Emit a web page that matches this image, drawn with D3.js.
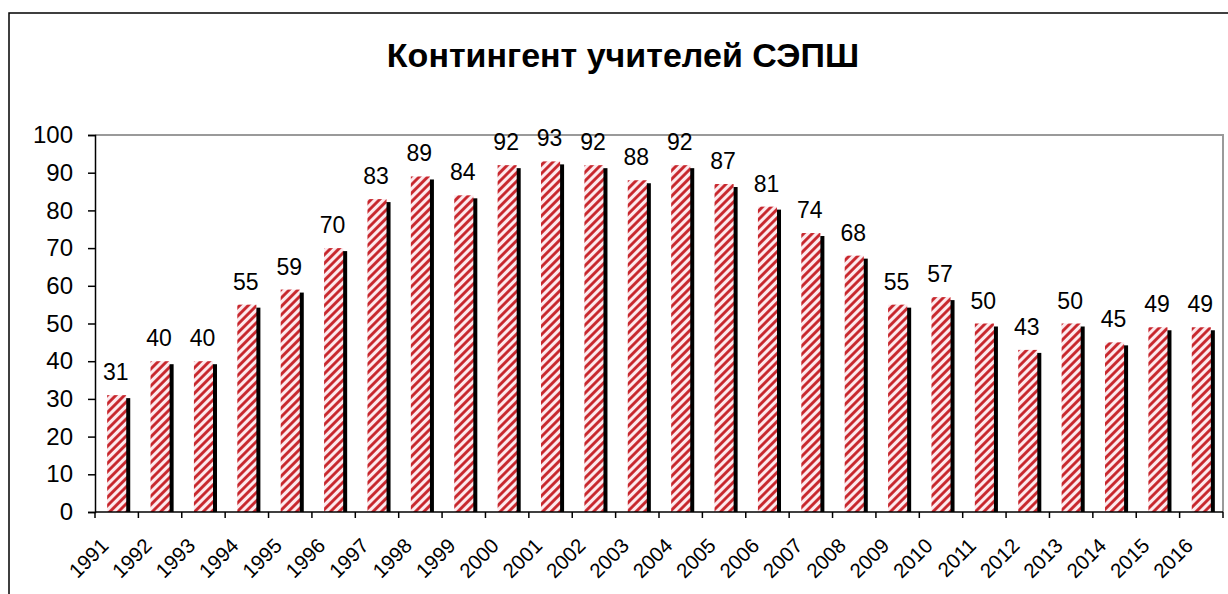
<!DOCTYPE html>
<html>
<head>
<meta charset="utf-8">
<script src="https://cdn.jsdelivr.net/npm/d3@7"></script>
<style>
  body { margin: 0; background: #fff; }
  svg { display: block; font-family: "Liberation Sans", Arial, sans-serif; }
</style>
</head>
<body>
<script>
// chart data
const titleText = "Контингент учителей СЭПШ";
const years = ["1991","1992","1993","1994","1995","1996","1997","1998","1999","2000",
  "2001","2002","2003","2004","2005","2006","2007","2008","2009","2010",
  "2011","2012","2013","2014","2015","2016"];
const teachers = [31,40,40,55,59,70,83,89,84,92,93,92,88,92,87,81,74,68,55,57,50,43,50,45,49,49];
const yTicks = [0,10,20,30,40,50,60,70,80,90,100];

const W = 1228, H = 594;
const plotL = 95, plotR = 1223, plotT = 135, plotB = 512;

let svg = d3.select("body").append("svg")
  .attr("width", W)
  .attr("height", H);

// hatch fill for bars
const defs = svg.append("defs");
const pat = defs.append("pattern")
  .attr("id", "hatch")
  .attr("patternUnits", "userSpaceOnUse")
  .attr("width", 6)
  .attr("height", 6)
  .attr("patternTransform", "rotate(45)");
pat.append("rect").attr("width", 6).attr("height", 6).attr("fill", "#fdeaee");
pat.append("line")
  .attr("x1", 1.5).attr("y1", 0).attr("x2", 1.5).attr("y2", 6)
  .attr("stroke", "#c62026").attr("stroke-width", 2.8);

// outer chart frame (runs off right / bottom edge)
svg.append("rect")
  .attr("x", 9).attr("y", 13)
  .attr("width", 1240).attr("height", 600)
  .attr("fill", "none")
  .attr("stroke", "#000")
  .attr("stroke-width", 1.5);

svg.append("text")
  .attr("x", 623)
  .attr("y", 67)
  .attr("text-anchor", "middle")
  .attr("font-size", "34px")
  .attr("font-weight", "bold")
  .attr("fill", "#000")
  .text(titleText);

const x = d3.scaleBand().domain(years).range([plotL, plotR]).padding(0);
const y = d3.scaleLinear().domain([0, 100]).range([plotB, plotT]);

// plot area border (grey top/right)
svg.append("path")
  .attr("d", `M${plotL},${plotT}H${plotR}V${plotB}`)
  .attr("fill", "none")
  .attr("stroke", "#9a9a9a")
  .attr("stroke-width", 2);

const bw = x.bandwidth() * 0.44;
const rows = years.map((yr, i) => ({ year: yr, value: teachers[i] }));

// shadows
svg.append("g").selectAll("rect")
  .data(rows)
  .enter().append("rect")
    .attr("x", d => x(d.year) + x.bandwidth() / 2 - bw / 2 + 4)
    .attr("y", d => y(d.value) + 3)
    .attr("width", bw)
    .attr("height", d => plotB - y(d.value) - 3)
    .attr("fill", "#000");

// bars
svg.append("g").selectAll("rect")
  .data(rows)
  .enter().append("rect")
    .attr("x", d => x(d.year) + x.bandwidth() / 2 - bw / 2)
    .attr("y", d => y(d.value))
    .attr("width", bw)
    .attr("height", d => plotB - y(d.value))
    .attr("fill", "url(#hatch)");

// value labels
svg.append("g").selectAll("text")
  .data(rows)
  .enter().append("text")
    .attr("x", d => x(d.year) + x.bandwidth() / 2 - 1)
    .attr("y", d => y(d.value) - 15)
    .attr("text-anchor", "middle")
    .attr("font-size", "23px")
    .attr("fill", "#000")
    .text(d => d.value);

// y axis
const yAxis = svg.append("g")
  .attr("transform", `translate(${plotL},0)`)
  .call(d3.axisLeft(y).tickValues(yTicks).tickSize(7).tickPadding(15));
yAxis.selectAll("text").attr("font-size", "24px").attr("fill", "#000")
  .style("font-family", "'Liberation Sans', Arial, sans-serif");
yAxis.select(".domain").attr("stroke", "#000").attr("stroke-width", 1.5);
yAxis.selectAll(".tick line").attr("stroke", "#000").attr("stroke-width", 1.5);

// x axis: ticks between categories
const bounds = years.map(yr => x(yr)).concat([plotR]);
const xg = svg.append("g");
xg.append("line")
  .attr("x1", plotL).attr("x2", plotR)
  .attr("y1", plotB).attr("y2", plotB)
  .attr("stroke", "#000").attr("stroke-width", 1.5);
xg.selectAll("line.tk")
  .data(bounds)
  .enter().append("line")
    .attr("class", "tk")
    .attr("x1", d => d).attr("x2", d => d)
    .attr("y1", plotB).attr("y2", plotB + 6)
    .attr("stroke", "#000").attr("stroke-width", 1.5);
xg.selectAll("text")
  .data(years)
  .enter().append("text")
    .attr("text-anchor", "end")
    .attr("font-size", "20.5px")
    .attr("fill", "#000")
    .attr("transform", d => `translate(${x(d) + x.bandwidth() / 2 - 7},${plotB + 35}) rotate(-45)`)
    .text(d => d);
</script>
</body>
</html>
